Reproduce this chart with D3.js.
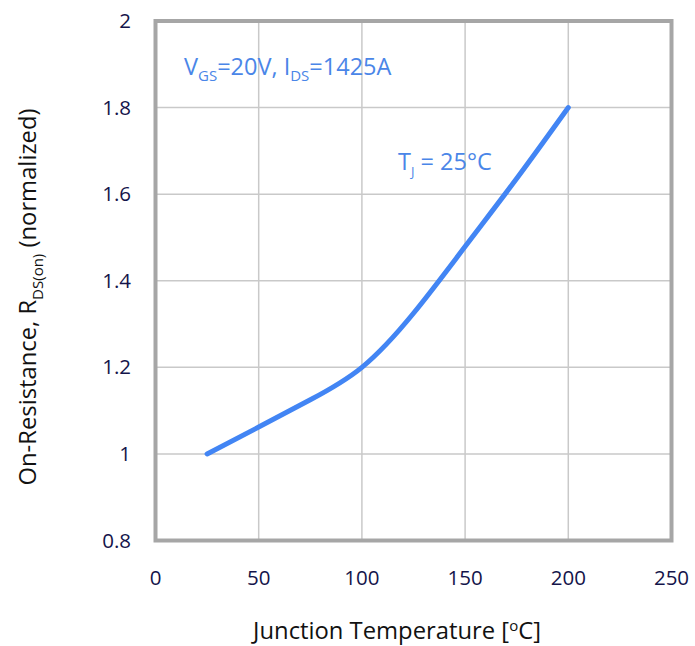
<!DOCTYPE html>
<html>
<head>
<meta charset="utf-8">
<script src="https://cdn.jsdelivr.net/npm/d3@7"></script>
<style>
  body { margin: 0; background: #fff; }
  text { font-family: "Open Sans", "Noto Sans", sans-serif; }
</style>
</head>
<body>
<div id="chart"></div>
<script>
// curve: junction temperature (°C) vs normalized Rds(on)
var temps = [25, 50, 75, 100, 125, 150, 175, 200];
var rdsOn = [1.0, 1.062, 1.125, 1.2, 1.325, 1.479, 1.636, 1.8];
var xTicks = [0, 50, 100, 150, 200, 250];
var yTicks = [0.8, 1, 1.2, 1.4, 1.6, 1.8, 2];

var width = 695, height = 646;
var plotL = 155.5, plotR = 671.5, plotT = 21, plotB = 540.5;

var svg = d3.select("#chart")
    .append("svg")
    .attr("width", width)
    .attr("height", height);

var x = d3.scaleLinear().domain([0, 250]).range([plotL, plotR]);
var y = d3.scaleLinear().domain([0.8, 2]).range([plotB, plotT]);

// gridlines
svg.append("g")
    .selectAll("line")
    .data(xTicks.slice(1, -1))
    .join("line")
    .attr("x1", function (d) { return x(d); })
    .attr("x2", function (d) { return x(d); })
    .attr("y1", plotT)
    .attr("y2", plotB)
    .attr("stroke", "#c9c9c9")
    .attr("stroke-width", 1.5);
svg.append("g")
    .selectAll("line")
    .data(yTicks.slice(1, -1))
    .join("line")
    .attr("x1", plotL)
    .attr("x2", plotR)
    .attr("y1", function (d) { return y(d); })
    .attr("y2", function (d) { return y(d); })
    .attr("stroke", "#c9c9c9")
    .attr("stroke-width", 1.5);

// frame
svg.append("rect")
    .attr("x", plotL)
    .attr("y", plotT)
    .attr("width", plotR - plotL)
    .attr("height", plotB - plotT)
    .attr("fill", "none")
    .attr("stroke", "#a6a6a6")
    .attr("stroke-width", 4);

// tick labels
svg.append("g")
    .selectAll("text")
    .data(yTicks)
    .join("text")
    .attr("x", 131)
    .attr("y", function (d) { return y(d) + 7; })
    .attr("text-anchor", "end")
    .style("font-size", "20.5px")
    .style("fill", "#14144a")
    .text(function (d) { return d3.format("")(d); });
svg.append("g")
    .selectAll("text")
    .data(xTicks)
    .join("text")
    .attr("x", function (d) { return x(d); })
    .attr("y", 585)
    .attr("text-anchor", "middle")
    .style("font-size", "20.5px")
    .style("fill", "#14144a")
    .text(function (d) { return d; });

// curve
var line = d3.line()
    .x(function (d, i) { return x(temps[i]); })
    .y(function (d) { return y(d); })
    .curve(d3.curveNatural);
svg.append("path")
    .datum(rdsOn)
    .attr("d", line)
    .attr("fill", "none")
    .attr("stroke", "#4285f4")
    .attr("stroke-width", 5)
    .attr("stroke-linecap", "round");

// annotations
var note = svg.append("text")
    .attr("x", 184)
    .attr("y", 75)
    .style("font-size", "23.5px")
    .style("fill", "#4a86e8");
note.append("tspan").text("V");
note.append("tspan").attr("dy", 6).style("font-size", "15px").text("GS");
note.append("tspan").attr("dy", -6).text("=20V, I");
note.append("tspan").attr("dy", 6).style("font-size", "15px").text("DS");
note.append("tspan").attr("dy", -6).text("=1425A");

var tj = svg.append("text")
    .attr("x", 398)
    .attr("y", 170)
    .style("font-size", "23.5px")
    .style("fill", "#4a86e8");
tj.append("tspan").text("T");
tj.append("tspan").attr("dy", 6).style("font-size", "13px").text("J");
tj.append("tspan").attr("dy", -6).text(" = 25°C");

// axis titles
var xt = svg.append("text")
    .attr("x", 397)
    .attr("y", 639)
    .attr("text-anchor", "middle")
    .style("font-size", "23.8px")
    .style("fill", "#111");
xt.append("tspan").text("Junction Temperature [");
xt.append("tspan").attr("dy", -8).style("font-size", "15px").text("o");
xt.append("tspan").attr("dy", 8).text("C]");

var yt = svg.append("text")
    .attr("transform", "translate(36,297) rotate(-90)")
    .attr("text-anchor", "middle")
    .style("font-size", "23.8px")
    .style("fill", "#111");
yt.append("tspan").text("On-Resistance, R");
yt.append("tspan").attr("dy", 7).style("font-size", "15px").text("DS(on)");
yt.append("tspan").attr("dy", -7).text(" (normalized)");
</script>
</body>
</html>
